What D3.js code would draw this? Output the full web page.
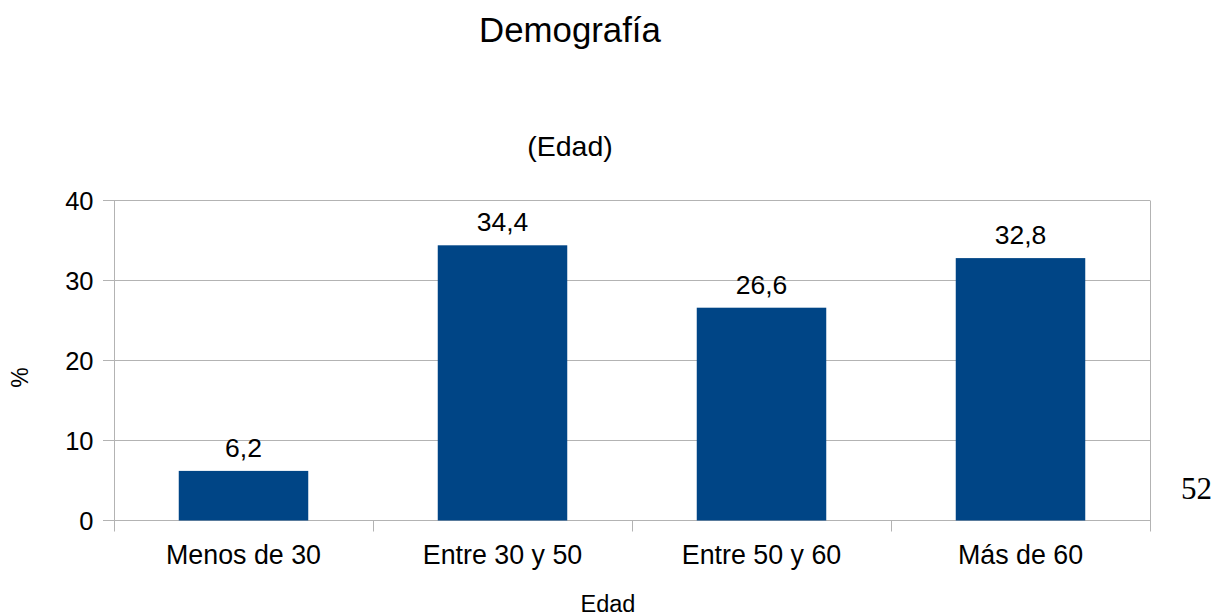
<!DOCTYPE html>
<html>
<head>
<meta charset="utf-8">
<script src="https://cdn.jsdelivr.net/npm/d3@7"></script>
<style>
  body { margin: 0; background: #fff; }
  svg text { font-family: 'Liberation Sans', Arial, sans-serif; fill: #000; }
</style>
</head>
<body>
<div id="chart"></div>
<script>
const CATEGORIES = ['Menos de 30', 'Entre 30 y 50', 'Entre 50 y 60', 'Más de 60']
const VALUES = [6.2, 34.4, 26.6, 32.8]
const Y_TICKS = [0, 10, 20, 30, 40]

const TITLE = 'Demografía'
const SUBTITLE = '(Edad)'
const X_LABEL = 'Edad'
const Y_LABEL = '%'
const PAGE_NUMBER = '52'

const BAR_COLOR = '#004586'
const GRID_COLOR = '#b3b3b3'

const width = 1216
const height = 614
const margin = {top: 200.5, right: 66, bottom: 93.5, left: 114}

const svg = d3.select('#chart').append('svg')
  .attr('width', width)
  .attr('height', height)

const x = d3.scaleBand()
  .domain(CATEGORIES)
  .range([margin.left, width - margin.right])
  .paddingInner(0.5)
  .paddingOuter(0.25)

const y = d3.scaleLinear()
  .domain([0, 40])
  .range([height - margin.bottom, margin.top])

const fmt = d => String(d).replace('.', ',')

// grid
svg.append('g')
  .selectAll('line')
  .data(Y_TICKS)
  .join('line')
  .attr('x1', margin.left - 11)
  .attr('x2', width - margin.right)
  .attr('y1', d => y(d))
  .attr('y2', d => y(d))
  .attr('stroke', GRID_COLOR)
  .attr('stroke-width', 1)

// y axis
svg.append('g')
  .attr('transform', `translate(${margin.left + 0.5},0)`)
  .call(d3.axisLeft(y).tickValues(Y_TICKS).tickSize(0).tickPadding(21))
  .call(g => g.select('.domain').remove())
  .call(g => g.selectAll('text')
    .attr('font-size', 25.5)
    .attr('font-family', "'Liberation Sans', Arial, sans-serif")
    .attr('fill', '#000')
    .attr('dy', '0.36em'))

// frame lines at band edges
const edges = CATEGORIES.map(c => x(c) - x.step() * x.paddingInner() / 2)
  .concat([x.range()[1]])

svg.append('g')
  .selectAll('line')
  .data(edges)
  .join('line')
  .attr('x1', d => Math.round(d) + 0.5)
  .attr('x2', d => Math.round(d) + 0.5)
  .attr('y1', (d, i) => (i === 0 || i === edges.length - 1) ? margin.top : y(0))
  .attr('y2', y(0) + 11)
  .attr('stroke', GRID_COLOR)

// bars
svg.append('g')
  .selectAll('rect')
  .data(VALUES)
  .join('rect')
  .attr('x', (d, i) => x(CATEGORIES[i]))
  .attr('y', d => y(d))
  .attr('width', x.bandwidth())
  .attr('height', d => y(0) - y(d))
  .attr('fill', BAR_COLOR)

// value labels
svg.append('g')
  .selectAll('text')
  .data(VALUES)
  .join('text')
  .attr('x', (d, i) => x(CATEGORIES[i]) + x.bandwidth() / 2)
  .attr('y', d => y(d) - 14)
  .attr('text-anchor', 'middle')
  .attr('font-size', 26.5)
  .text(fmt)

// category labels
svg.append('g')
  .selectAll('text')
  .data(CATEGORIES)
  .join('text')
  .attr('x', d => x(d) + x.bandwidth() / 2)
  .attr('y', 564)
  .attr('text-anchor', 'middle')
  .attr('font-size', 26.8)
  .text(d => d)

svg.append('text')
  .attr('x', 570)
  .attr('y', 42)
  .attr('text-anchor', 'middle')
  .attr('font-size', 34.8)
  .text(TITLE)

svg.append('text')
  .attr('x', 570)
  .attr('y', 156)
  .attr('text-anchor', 'middle')
  .attr('font-size', 28.5)
  .text(SUBTITLE)

svg.append('text')
  .attr('x', 608)
  .attr('y', 612)
  .attr('text-anchor', 'middle')
  .attr('font-size', 23.5)
  .text(X_LABEL)

svg.append('text')
  .attr('transform', 'translate(28,377.5) rotate(-90)')
  .attr('text-anchor', 'middle')
  .attr('font-size', 23)
  .text(Y_LABEL)

svg.append('text')
  .attr('x', 1212)
  .attr('y', 499)
  .attr('text-anchor', 'end')
  .attr('font-size', 31)
  .style('font-family', "'Liberation Serif', 'Times New Roman', serif")
  .text(PAGE_NUMBER)
</script>
</body>
</html>
